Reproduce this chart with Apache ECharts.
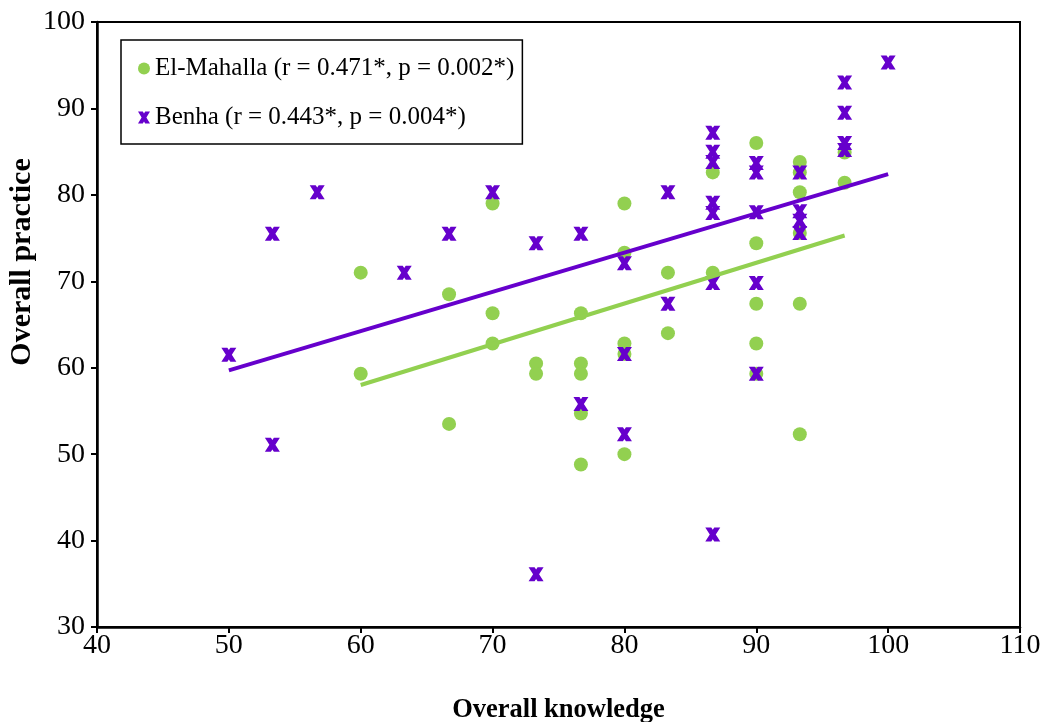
<!DOCTYPE html>
<html>
<head>
<meta charset="utf-8">
<script src="https://cdn.jsdelivr.net/npm/echarts@6/dist/echarts.min.js"></script>
<style>
html,body{margin:0;padding:0;background:#fff;}
#chart{width:1043px;height:722px;}
</style>
</head>
<body>
<div id="chart"></div>
<script>
// ---- Data ----
var mahallaName = 'El-Mahalla (r = 0.471*, p = 0.002*)';
var benhaName = 'Benha (r = 0.443*, p = 0.004*)';

var mahallaKnowledge = [60, 60, 66.7, 66.7, 70, 70, 70, 73.3, 73.3,
  76.7, 76.7, 76.7, 76.7, 76.7, 80, 80, 80, 80, 80, 83.3, 83.3,
  86.7, 86.7, 90, 90, 90, 90, 90, 93.3, 93.3, 93.3, 93.3, 93.3, 93.3, 96.7, 96.7];
var mahallaPractice = [71.0, 59.3, 68.5, 53.5, 79.0, 66.3, 62.8, 60.5, 59.3,
  66.3, 60.5, 59.3, 54.7, 48.8, 79.0, 73.3, 62.8, 61.6, 50.0, 71.0, 64.0,
  82.6, 71.0, 86.0, 74.4, 67.4, 62.8, 59.3, 83.8, 82.6, 80.3, 75.6, 67.4, 52.3, 84.9, 81.4];

var benhaKnowledge = [50, 53.3, 53.3, 56.7, 63.3, 66.7, 70, 73.3, 73.3,
  76.7, 76.7, 80, 80, 80, 83.3, 83.3,
  86.7, 86.7, 86.7, 86.7, 86.7, 86.7, 86.7,
  90, 90, 90, 90, 90, 93.3, 93.3, 93.3, 93.3,
  96.7, 96.7, 96.7, 96.7, 100];
var benhaPractice = [61.5, 75.5, 51.1, 80.3, 71.0, 75.5, 80.3, 74.4, 36.1,
  75.5, 55.8, 72.1, 61.6, 52.3, 80.3, 67.4,
  87.2, 85.0, 83.8, 79.1, 77.9, 69.8, 40.7,
  83.7, 82.6, 78.0, 69.8, 59.3, 82.6, 78.1, 77.0, 75.6,
  93.0, 89.5, 86.0, 85.2, 95.3];

// Linear trend line end points
var mahallaTrendX = [60, 96.7];
var mahallaTrendY = [58.0, 75.3];
var benhaTrendX = [50, 100];
var benhaTrendY = [59.7, 82.4];

var xTicks = {min: 40, max: 110, interval: 10};
var yTicks = {min: 30, max: 100, interval: 10};

// ---- Build ----
function pairs(xs, ys){ return xs.map(function(x,i){ return [x, ys[i]]; }); }

var GREEN = '#92D050';
var PURPLE = '#6600CC';
var FONT = '"Liberation Serif", "Times New Roman", serif';
var crossPath = 'path://M0,0 H4 L5,1.6 L6,0 H10 L7,5 L10,10 H6 L5,8.4 L4,10 H0 L3,5 Z';

var chart = echarts.init(document.getElementById('chart'));
chart.setOption({
  animation: false,
  backgroundColor: '#fff',
  grid: {left: 97, right: 23, top: 22, bottom: 95, outerBoundsMode: 'none', containLabel: false,
         show: true, borderColor: '#000', borderWidth: 2, backgroundColor: 'transparent'},
  legend: {
    data: [mahallaName, benhaName],
    orient: 'vertical',
    left: 121, top: 40,
    padding: [16, 8, 14, 17],
    itemGap: 24,
    itemWidth: 12, itemHeight: 13,
    itemTextGap: 3,
    borderColor: '#000', borderWidth: 1.5,
    backgroundColor: '#fff',
    textStyle: {fontFamily: FONT, fontSize: 25, color: '#000'}
  },
  xAxis: {
    type: 'value', min: xTicks.min, max: xTicks.max, interval: xTicks.interval,
    name: 'Overall knowledge', nameLocation: 'middle', nameGap: 70,
    nameTextStyle: {fontFamily: FONT, fontSize: 26.5, fontWeight: 'bold', color: '#000'},
    splitLine: {show: false},
    axisLine: {lineStyle: {color: '#000', width: 2.5}},
    axisTick: {inside: false, length: 6, lineStyle: {color: '#000', width: 2}},
    axisLabel: {fontFamily: FONT, fontSize: 28, color: '#000', margin: 5}
  },
  yAxis: {
    type: 'value', min: yTicks.min, max: yTicks.max, interval: yTicks.interval,
    splitLine: {show: false},
    axisLine: {show: true, lineStyle: {color: '#000', width: 2.5}},
    axisTick: {show: true, inside: false, length: 6, lineStyle: {color: '#000', width: 2}},
    axisLabel: {fontFamily: FONT, fontSize: 28, color: '#000', margin: 12}
  },
  graphic: [{
    type: 'text', x: 22, y: 262, rotation: Math.PI / 2,
    style: {text: 'Overall practice', font: 'bold 30px ' + FONT, fill: '#000', align: 'center', verticalAlign: 'middle'}
  }],
  series: [
    {name: mahallaName, type: 'scatter', data: pairs(mahallaKnowledge, mahallaPractice),
     symbol: 'circle', symbolSize: 14, itemStyle: {color: GREEN, opacity: 1}, z: 2},
    {name: benhaName, type: 'scatter', data: pairs(benhaKnowledge, benhaPractice),
     symbol: crossPath, symbolSize: [15, 14], itemStyle: {color: PURPLE, opacity: 1}, z: 3},
    {name: 'El-Mahalla trend', type: 'line', data: pairs(mahallaTrendX, mahallaTrendY),
     symbol: 'none', lineStyle: {color: GREEN, width: 4}, itemStyle: {color: GREEN}, z: 4, silent: true},
    {name: 'Benha trend', type: 'line', data: pairs(benhaTrendX, benhaTrendY),
     symbol: 'none', lineStyle: {color: PURPLE, width: 4}, itemStyle: {color: PURPLE}, z: 5, silent: true}
  ]
});
</script>
</body>
</html>
